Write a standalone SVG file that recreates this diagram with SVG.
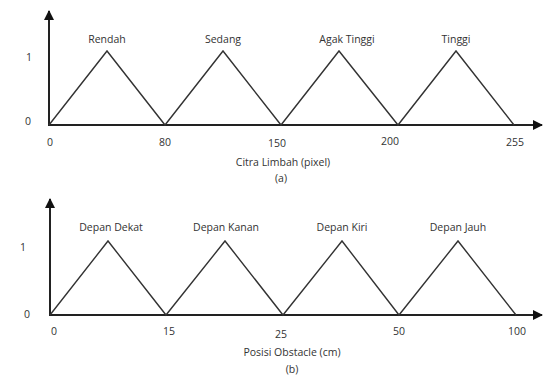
<svg xmlns="http://www.w3.org/2000/svg" width="543" height="377" viewBox="0 0 543 377">
<style>
text{font-family:"Open Sans","Liberation Sans",sans-serif;fill:#333;font-size:10.5px;text-anchor:middle}
.ax{stroke:#222;stroke-width:2;fill:none}
.mf{stroke:#333;stroke-width:1.4;fill:none;stroke-linejoin:miter}
</style>
<defs>
<marker id="ah" viewBox="0 0 10 10" refX="9" refY="5" markerWidth="5" markerHeight="5" orient="auto" markerUnits="strokeWidth">
<path d="M0,0 L10,5 L0,10 z" fill="#111"/>
</marker>
</defs>
<rect width="543" height="377" fill="#fff"/>
<g id="chart-a">
<g id="axes-a">
<line class="ax" x1="49" y1="125" x2="49" y2="11" marker-end="url(#ah)"/>
<line class="ax" x1="48" y1="125" x2="542" y2="125" marker-end="url(#ah)"/>
</g>
<g id="connectors-a">
<polyline class="mf" points="49,125 107,51 165,125 223,51 281,125 339,51 398,125 456,51 514,125"/>
</g>
<g id="labels-a">
<text x="107" y="43">Rendah</text>
<text x="223" y="43">Sedang</text>
<text x="347" y="43">Agak Tinggi</text>
<text x="456" y="43">Tinggi</text>
<text x="29" y="61">1</text>
<text x="28" y="125">0</text>
<text x="50" y="146">0</text>
<text x="165" y="146">80</text>
<text x="277" y="147">150</text>
<text x="390" y="145">200</text>
<text x="515" y="146">255</text>
<text x="283" y="166">Citra Limbah (pixel)</text>
<text x="281" y="182">(a)</text>
</g>
</g>
<g id="chart-b">
<g id="axes-b">
<line class="ax" x1="50" y1="315" x2="50" y2="199" marker-end="url(#ah)"/>
<line class="ax" x1="49" y1="315" x2="542" y2="315" marker-end="url(#ah)"/>
</g>
<g id="connectors-b">
<polyline class="mf" points="50,315 108,241 166,315 225,241 283,315 342,241 399,315 458,241 516,315"/>
</g>
<g id="labels-b">
<text x="111" y="231">Depan Dekat</text>
<text x="226" y="231">Depan Kanan</text>
<text x="342" y="231">Depan Kiri</text>
<text x="458" y="231">Depan Jauh</text>
<text x="23" y="251">1</text>
<text x="27" y="318">0</text>
<text x="54" y="335">0</text>
<text x="169" y="335">15</text>
<text x="281" y="338">25</text>
<text x="399" y="335">50</text>
<text x="517" y="335">100</text>
<text x="292" y="356">Posisi Obstacle (cm)</text>
<text x="292" y="373">(b)</text>
</g>
</g>
</svg>
